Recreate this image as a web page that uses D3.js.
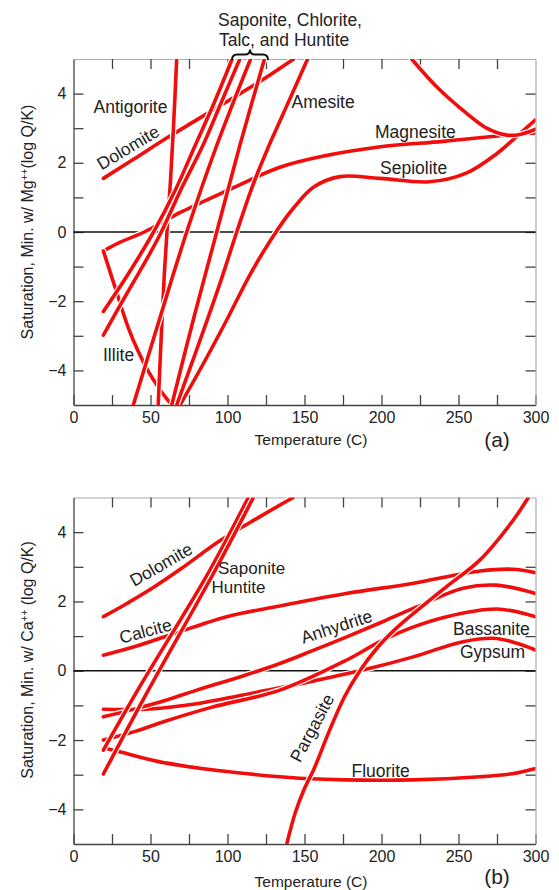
<!DOCTYPE html>
<html><head><meta charset="utf-8">
<script src="https://cdn.jsdelivr.net/npm/d3@7"></script>
<style>
body{margin:0;background:#fff}
svg{display:block}
text{font-family:"Liberation Sans",Arial,Helvetica,sans-serif;fill:#222}
</style>
</head><body>
<svg id="chart" width="559" height="890"></svg>
<script>
// ---------- axis ticks ----------
const tempTicks = d3.range(0, 301, 25);
const tempLabels = [0, 50, 100, 150, 200, 250, 300];
const satTicks = d3.range(-4, 5, 1);
const satLabels = [-4, -2, 0, 2, 4];

// ---------- panel (a): minerals with Mg++ ----------
const mgDolomite  = [[19.4,1.55],[40,2.13],[60,2.7],[80,3.24],[100,3.78],[120,4.32],[143,5.0]];
const mgMagnesite = [[19.4,-0.55],[30,-0.3],[46,0],[70,0.58],[100,1.2],[134,1.87],[163,2.2],[197,2.45],[240,2.62],[277,2.78],[300,2.86]];
const mgSepiolite = [[69.2,-5],[85,-3.75],[100,-2.5],[115,-1.2],[131.5,0],[143,0.7],[156,1.3],[173,1.6],[199,1.55],[231,1.45],[255,1.7],[275,2.27],[290,2.85],[300,3.24]];
const mgUnlabeled = [[219.6,5],[235.8,4.2],[255.3,3.43],[268.3,3.0],[281.3,2.8],[290,2.82],[300,2.97]];
const mgIllite    = [[19.4,-0.55],[27,-1.6],[35.6,-2.77],[42,-3.45],[48.6,-4.03],[56,-4.55],[63.8,-5]];
const mgAntigorite= [[55,-5],[57,-3],[59,-1.2],[61,0.2],[63,1.5],[65,3.1],[67,5]];
const mgAmesite   = [[67,-5],[80,-3.4],[95,-1.5],[106,0],[116,1.3],[126,2.4],[135,3.3],[144,4.2],[152,5]];
const mgHuntite   = [[19.4,-2.3],[35,-1.25],[52,0],[66,1.2],[79,2.5],[91,3.7],[103,5]];
const mgSaponite  = [[19.4,-2.98],[35,-1.75],[48,-0.75],[57,0],[70,1.25],[84,2.5],[96,3.75],[108,5]];
const mgTalc      = [[38.8,-5],[56,-2.5],[73.5,0],[93,2.5],[115,5]];
const mgChlorite  = [[63.8,-5],[78,-2.5],[93,0],[108,2.5],[124,5]];

// ---------- panel (b): minerals with Ca++ ----------
const caFluorite  = [[19.4,-2.22],[30,-2.34],[56,-2.63],[99.5,-2.91],[134,-3.06],[150,-3.11],[177,-3.15],[220,-3.15],[264,-3.06],[285,-2.97],[300,-2.82]];
const caCalcite   = [[19.4,0.45],[40,0.7],[62.7,1.03],[99.5,1.56],[134,1.87],[177,2.23],[220,2.52],[264,2.88],[285,2.93],[300,2.83]];
const caGypsum    = [[19.4,-1.11],[50,-1.1],[80,-0.95],[110,-0.7],[150,-0.35],[188,0.02],[220.6,0.4],[253,0.84],[274.8,0.93],[300,0.6]];
const caBassanite = [[19.4,-2.0],[40,-1.75],[60,-1.45],[90,-1.05],[134,-0.56],[177.4,0.31],[199,0.84],[220,1.25],[242.3,1.56],[274.8,1.78],[300,1.56]];
const caAnhydrite = [[19.4,-1.33],[40,-1.1],[60,-0.85],[80,-0.56],[110,-0.15],[134,0.21],[153.6,0.55],[177.4,0.98],[200,1.4],[220.6,1.8],[253,2.38],[274.7,2.47],[300,2.23]];
const caDolomite  = [[19.4,1.56],[35,1.95],[50,2.35],[70,2.95],[95,3.75],[120,4.42],[142.7,5.0]];
const caPargasite = [[138.5,-5],[144,-4.1],[150,-3.4],[156,-2.85],[166,-1.75],[176,-0.75],[186,0.0],[197,0.65],[209,1.2],[221,1.66],[242,2.42],[264,3.2],[285.6,4.35],[295.3,5]];
const caHuntite   = [[19.4,-2.29],[41.7,-0.56],[88.5,2.9],[113.5,5]];
const caSaponite  = [[19.4,-2.98],[48.6,-0.56],[92,2.9],[116.8,5]];

const mgSeries = [
  {name:"Dolomite", values: mgDolomite},
  {name:"Magnesite", values: mgMagnesite},
  {name:"Sepiolite", values: mgSepiolite},
  {name:"(unlabeled)", values: mgUnlabeled},
  {name:"Illite", values: mgIllite},
  {name:"Antigorite", values: mgAntigorite},
  {name:"Amesite", values: mgAmesite},
  {name:"Huntite", values: mgHuntite},
  {name:"Saponite", values: mgSaponite},
  {name:"Talc", values: mgTalc},
  {name:"Chlorite", values: mgChlorite}
];
const caSeries = [
  {name:"Fluorite", values: caFluorite},
  {name:"Calcite", values: caCalcite},
  {name:"Gypsum", values: caGypsum},
  {name:"Bassanite", values: caBassanite},
  {name:"Anhydrite", values: caAnhydrite},
  {name:"Dolomite", values: caDolomite},
  {name:"Pargasite", values: caPargasite},
  {name:"Huntite", values: caHuntite},
  {name:"Saponite", values: caSaponite}
];

// ---------- layout ----------
const svg = d3.select("#chart");
const X0 = 73.5, X1 = 535.5;
const panels = [
  {id:"a", top:59, bottom:405, series:mgSeries, ion:"Mg", sep:"", ytitleY:222, xtitleY:445, tagY:447,
   labels:[
     {t:"Antigorite", x:93.5, y:113, a:"start", fs:17.5},
     {t:"Dolomite", x:128, y:147.5, rot:-31, a:"middle", fs:17.5},
     {t:"Illite", x:103, y:361, a:"start", fs:17.5},
     {t:"Amesite", x:291.5, y:108, a:"start", fs:17.5},
     {t:"Magnesite", x:375, y:138, a:"start", fs:17.5},
     {t:"Sepiolite", x:380, y:174, a:"start", fs:17.5}
   ]},
  {id:"b", top:497.5, bottom:844, series:caSeries, ion:"Ca", sep:" ", ytitleY:660, xtitleY:887, tagY:884,
   labels:[
     {t:"Dolomite", x:161, y:564.5, rot:-30, a:"middle", fs:17.5},
     {t:"Saponite", x:218, y:574, a:"start", fs:17},
     {t:"Huntite", x:211.5, y:593, a:"start", fs:17},
     {t:"Calcite", x:145.5, y:631, rot:-15, a:"middle", fs:17.5},
     {t:"Anhydrite", x:336.5, y:626.5, rot:-18, a:"middle", fs:17.5},
     {t:"Bassanite", x:453, y:635, a:"start", fs:17.5},
     {t:"Gypsum", x:460, y:658, a:"start", fs:17.5},
     {t:"Pargasite", x:312, y:728, rot:-62, a:"middle", fs:17.5},
     {t:"Fluorite", x:351.5, y:777, a:"start", fs:17.5}
   ]}
];

const x = d3.scaleLinear().domain([0,300]).range([X0, X1]);

panels.forEach(p => {
  const y = d3.scaleLinear().domain([-5,5]).range([p.bottom, p.top]);
  const g = svg.append("g");
  const clipId = "clip-" + p.id;
  svg.append("clipPath").attr("id", clipId).append("rect")
    .attr("x", X0).attr("y", p.top).attr("width", X1-X0).attr("height", p.bottom-p.top);

  // axes
  const axB = g.append("g").attr("transform",`translate(0,${p.bottom})`)
    .call(d3.axisBottom(x).tickValues(tempTicks).tickSize(-10).tickSizeOuter(0).tickPadding(7)
      .tickFormat(d => tempLabels.includes(d) ? d : ""));
  const axT = g.append("g").attr("transform",`translate(0,${p.top})`)
    .call(d3.axisTop(x).tickValues(tempTicks.filter(d=>d>0&&d<300)).tickSize(-10).tickSizeOuter(0).tickFormat(""));
  const axL = g.append("g").attr("transform",`translate(${X0},0)`)
    .call(d3.axisLeft(y).tickValues(satTicks).tickSize(-10).tickSizeOuter(0).tickPadding(7)
      .tickFormat(d => satLabels.includes(d) ? d3.format("")(d) : ""));
  const axR = g.append("g").attr("transform",`translate(${X1},0)`)
    .call(d3.axisRight(y).tickValues(satTicks).tickSize(-10).tickSizeOuter(0).tickFormat(""));
  [axB, axL].forEach(a => {
    a.select(".domain").attr("stroke","#444").attr("stroke-width",1.3);
    a.selectAll(".tick line").attr("stroke","#444").attr("stroke-width",1.3);
    a.selectAll(".tick text").attr("font-size",16).attr("fill","#333")
      .attr("font-family","'Liberation Sans',Arial,sans-serif");
  });
  [axT, axR].forEach(a => {
    a.select(".domain").attr("stroke","#aaa").attr("stroke-width",1.2);
    a.selectAll(".tick line").attr("stroke","#444").attr("stroke-width",1.3);
  });

  // zero line
  g.append("line").attr("x1",X0).attr("x2",X1).attr("y1",y(0)).attr("y2",y(0))
    .attr("stroke","#111").attr("stroke-width",1.3);

  // curves
  const line = d3.line().x(d=>x(d[0])).y(d=>y(d[1])).curve(d3.curveCatmullRom.alpha(0.5));
  const cg = g.append("g").attr("clip-path",`url(#${clipId})`);
  p.series.forEach(s => {
    const sg = cg.append("g").attr("class","series").attr("data-name", s.name);
    sg.append("path").attr("d", line(s.values)).attr("fill","none")
      .attr("stroke","#fff").attr("stroke-width",6).attr("stroke-linecap","round");
    sg.append("path").attr("d", line(s.values)).attr("fill","none")
      .attr("stroke","#f20d0d").attr("stroke-width",3.6).attr("stroke-linecap","round");
  });

  // labels
  p.labels.forEach(l => {
    const t = g.append("text").attr("font-size",l.fs).attr("fill","#2a2a2a")
      .attr("text-anchor", l.a).text(l.t);
    if (l.rot) {
      t.attr("transform",`translate(${l.x},${l.y}) rotate(${l.rot})`).attr("dy","0.35em");
    } else {
      t.attr("x", l.x).attr("y", l.y);
    }
  });

  // axis titles
  g.append("text").attr("x", 311).attr("y", p.xtitleY).attr("text-anchor","middle")
    .attr("font-size",15.5).attr("fill","#2a2a2a").text("Temperature (C)");
  const yt = g.append("text").attr("transform",`translate(33,${p.ytitleY}) rotate(-90)`)
    .attr("text-anchor","middle").attr("font-size",16).attr("fill","#2a2a2a");
  yt.append("tspan").text(`Saturation, Min. w/ ${p.ion}`);
  yt.append("tspan").attr("baseline-shift","super").attr("font-size",10).text("++");
  yt.append("tspan").text(`${p.sep}(log Q/K)`);

  g.append("text").attr("x", 497).attr("y", p.tagY).attr("text-anchor","middle")
    .attr("font-size",21).attr("fill","#111").text(`(${p.id})`);
});

// title & brace for panel (a)
svg.append("text").attr("x",218).attr("y",26).attr("font-size",17.5).attr("fill","#2a2a2a").text("Saponite, Chlorite,");
svg.append("text").attr("x",219).attr("y",46).attr("font-size",17.5).attr("fill","#2a2a2a").text("Talc, and Huntite");
svg.append("path")
  .attr("d","M232,60 Q232,54.5 237,54.5 L245,54.5 Q250,54.5 250,49.5 Q250,54.5 255,54.5 L263,54.5 Q268,54.5 268,60")
  .attr("fill","none").attr("stroke","#111").attr("stroke-width",2);
</script>
</body></html>
